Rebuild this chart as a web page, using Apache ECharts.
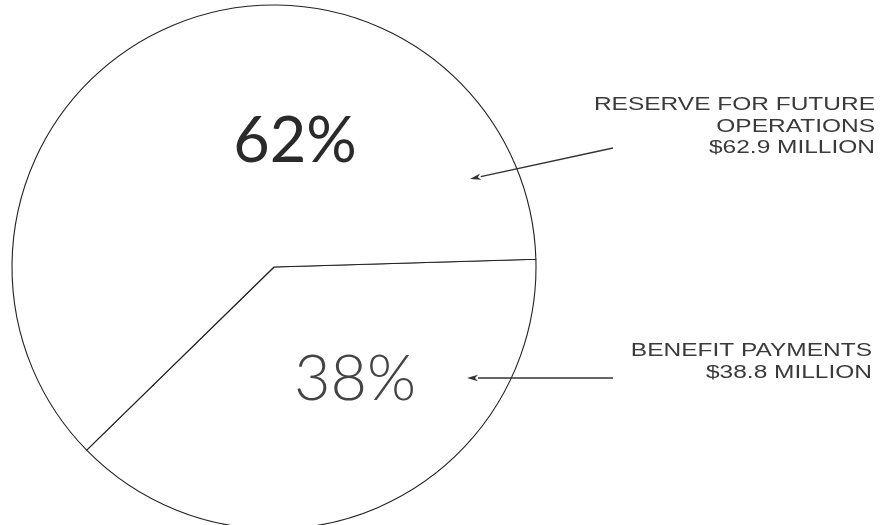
<!DOCTYPE html>
<html>
<head>
<meta charset="utf-8">
<script src="https://cdn.jsdelivr.net/npm/echarts@6/dist/echarts.min.js"></script>
<style>
html,body{margin:0;padding:0;background:#fff;}
#chart{width:887px;height:525px;}
</style>
</head>
<body>
<div id="chart"></div>
<script>
// ---- data ----
const categories = ['BENEFIT PAYMENTS', 'RESERVE FOR FUTURE OPERATIONS'];
const valuesMillion = [38.8, 62.9];
const annotationLines = [
  ['BENEFIT PAYMENTS', '$38.8 MILLION'],
  ['RESERVE FOR FUTURE', 'OPERATIONS', '$62.9 MILLION']
];

const total = valuesMillion.reduce((a, b) => a + b, 0);
const pctText = valuesMillion.map(v => Math.round(v / total * 100) + '%');

const chart = echarts.init(document.getElementById('chart'), null, {renderer: 'canvas'});

function arrow(x1, y1, x2, y2) {
  const dx = x2 - x1, dy = y2 - y1;
  const len = Math.sqrt(dx * dx + dy * dy);
  const ux = dx / len, uy = dy / len;
  const px = -uy, py = ux;
  const L = 11, W = 3.2;
  const bx = x2 - ux * L, by = y2 - uy * L;
  return [
    {type: 'line', z: 10, shape: {x1: x1, y1: y1, x2: bx, y2: by},
     style: {stroke: '#333', lineWidth: 1.3}, silent: true},
    {type: 'polygon', z: 10, shape: {points: [[x2, y2], [bx + px * W, by + py * W], [bx + ux * 3, by + uy * 3], [bx - px * W, by - py * W]]},
     style: {fill: '#333'}, silent: true}
  ];
}

const annoStyle = {
  fill: '#3a3a3a',
  font: '18px "Liberation Sans", Arial, sans-serif',
  textAlign: 'right',
  textVerticalAlign: 'middle',
  lineHeight: 21.5
};

const option = {
  animation: false,
  backgroundColor: '#ffffff',
  series: [{
    type: 'pie',
    z: 1,
    center: [274, 267],
    radius: [0, 262],
    startAngle: 1.7,
    clockwise: true,
    silent: true,
    label: {show: false},
    labelLine: {show: false},
    itemStyle: {color: '#ffffff', borderColor: '#222', borderWidth: 1.1},
    emphasis: {disabled: true},
    data: categories.map((c, i) => ({name: c, value: valuesMillion[i]}))
  }],
  graphic: [
    {type: 'text', z: 10, x: 295, y: 142, silent: true,
     style: {text: pctText[1], fill: '#2a2a2a', font: '400 63px Lato, "Liberation Sans", sans-serif',
             textAlign: 'center', textVerticalAlign: 'middle'}},
    {type: 'text', z: 10, x: 355, y: 380, silent: true,
     style: {text: pctText[0], fill: '#444', font: '300 63px Lato, "Liberation Sans", sans-serif',
             textAlign: 'center', textVerticalAlign: 'middle'}},
    {type: 'text', z: 10, x: 875, y: 127, scaleX: 1.36, silent: true,
     style: Object.assign({text: annotationLines[1].join('\n')}, annoStyle)},
    {type: 'text', z: 10, x: 872, y: 362, scaleX: 1.36, silent: true,
     style: Object.assign({text: annotationLines[0].join('\n')}, annoStyle)}
  ].concat(arrow(613, 148, 470, 179), arrow(613, 378, 467, 378))
};

chart.setOption(option);
</script>
</body>
</html>
